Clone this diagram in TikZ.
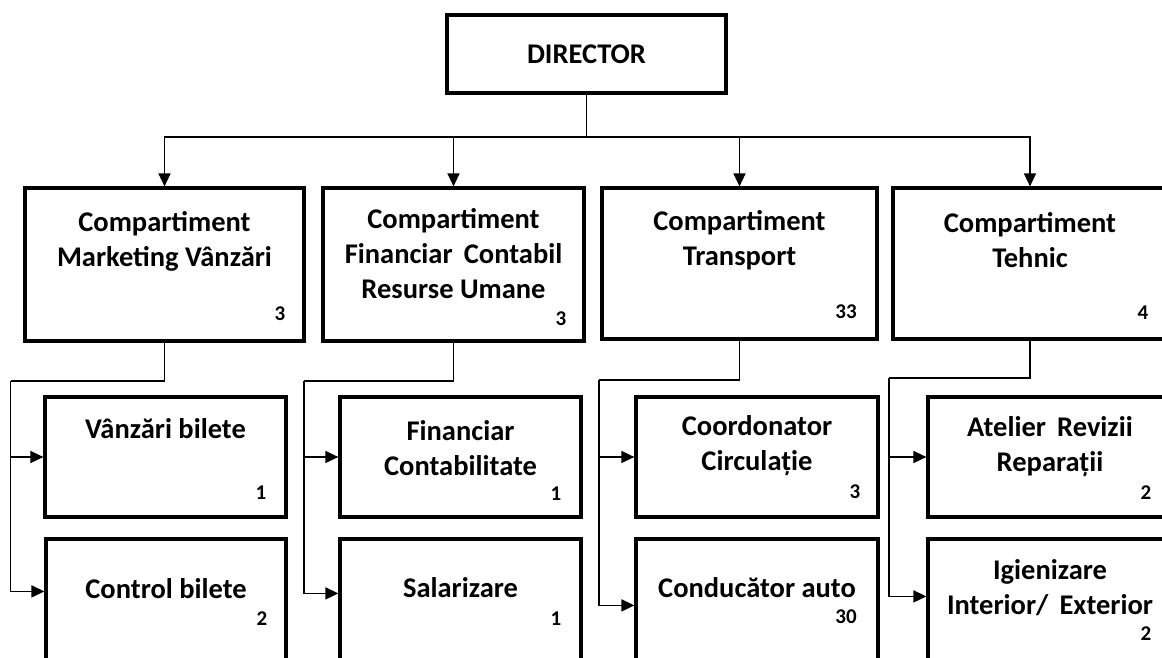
\documentclass[tikz,border=0pt]{standalone}
\usepackage{fontspec}
\setmainfont{Carlito}
\usetikzlibrary{arrows.meta}
\begin{document}
\begin{tikzpicture}[x=1pt,y=-1pt,
  box/.style={draw, line width=3.2pt, inner sep=0pt},
  ttl/.style={font=\fontsize{28.5}{35}\selectfont\bfseries, align=center},
  num/.style={font=\fontsize{21}{24}\selectfont\bfseries},
  line/.style={line width=1.5pt},
  arr/.style={line width=1.5pt, -{Triangle[length=13pt,width=12pt]}}]
\useasboundingbox (0,0) rectangle (1162,657);
\clip (0,0) rectangle (1162,657);
\node[box, ttl, minimum width=279pt, minimum height=78pt] (dir) at (586.5,54) {DIRECTOR};

\node[box, minimum width=279pt, minimum height=153pt] (mv) at (164.5,264.5) {};
\node[ttl] (mvt) at (164.5,241) {Compartiment\\Marketing Vânzări};
\node[num] (mvn) at (280,314) {3};
\node[box, minimum width=261pt, minimum height=153pt] (fcr) at (453.5,264.5) {};
\node[ttl] (fcrt) at (453.5,254) {Compartiment\\Financiar \,Contabil\\Resurse Umane};
\node[num] (fcrn) at (561,319) {3};
\node[box, minimum width=275pt, minimum height=151pt] (tr) at (739.5,263.5) {};
\node[ttl] (trt) at (739.5,240.5) {Compartiment\\Transport};
\node[num] (trn) at (846,312) {33};
\node[box, minimum width=274pt, minimum height=151pt] (th) at (1030,263.5) {};
\node[ttl] (tht) at (1030,240.5) {Compartiment\\Tehnic};
\node[num] (thn) at (1143,313) {4};

\node[box, minimum width=241pt, minimum height=120pt] (vb) at (165.5,457) {};
\node[ttl] (vbt) at (165.5,429) {Vânzări bilete};
\node[num] (vbn) at (261,493) {1};
\node[box, minimum width=241pt, minimum height=120pt] (fc) at (460.5,457) {};
\node[ttl] (fct) at (460.5,448) {Financiar\\Contabilitate};
\node[num] (fcn) at (556,494) {1};
\node[box, minimum width=242pt, minimum height=120pt] (cc) at (757,457) {};
\node[ttl] (cct) at (757,446) {Coordonator\\Circulație};
\node[num] (ccn) at (855,492) {3};
\node[box, minimum width=242pt, minimum height=120pt] (ar) at (1049,457) {};
\node[ttl] (art) at (1050,446.5) {Atelier \,Revizii\\Reparații};
\node[num] (arn) at (1146,493) {2};

\node[box, minimum width=240pt, minimum height=161pt] (cb) at (166,619.5) {};
\node[ttl] (cbt) at (166,589) {Control bilete};
\node[num] (cbn) at (262,619) {2};
\node[box, minimum width=241pt, minimum height=161pt] (sa) at (460.5,619.5) {};
\node[ttl] (sat) at (460.5,588) {Salarizare};
\node[num] (san) at (556,619) {1};
\node[box, minimum width=242pt, minimum height=161pt] (ca) at (757,619.5) {};
\node[ttl] (cat) at (757,588) {Conducător auto};
\node[num] (can) at (846,617) {30};
\node[box, minimum width=242pt, minimum height=161pt] (ig) at (1049,619.5) {};
\node[ttl] (igt) at (1050,588) {Igienizare\\Interior/ \,Exterior};
\node[num] (ign) at (1146,634) {2};

\coordinate (hub) at (586.5,137);
\draw[line] (dir.south) -- (hub);
\draw[arr] (hub) -| (mv.north);
\draw[arr] (hub) -| (fcr.north);
\draw[arr] (hub) -| (tr.north);
\draw[arr] (hub) -| (th.north);

\coordinate (k1) at (10.5,381);
\coordinate (k2) at (304,381);
\coordinate (k3) at (599,380);
\coordinate (k4) at (889,378);
\draw[line] (mv.south) |- (k1);
\draw[arr] (k1) |- (vb.west);
\draw[arr] (k1) |- ([yshift=-54pt]cb.north west);
\draw[line] (fcr.south) |- (k2);
\draw[arr] (k2) |- (fc.west);
\draw[arr] (k2) |- ([yshift=-56pt]sa.north west);
\draw[line] (tr.south) |- (k3);
\draw[arr] (k3) |- (cc.west);
\draw[arr] (k3) |- ([yshift=-68pt]ca.north west);
\draw[line] (th.south) |- (k4);
\draw[arr] (k4) |- (ar.west);
\draw[arr] (k4) |- ([yshift=-59pt]ig.north west);
\end{tikzpicture}
\end{document}
